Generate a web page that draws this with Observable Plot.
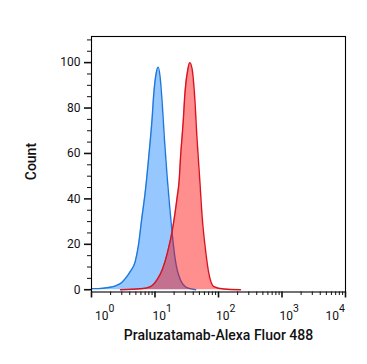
<!DOCTYPE html>
<html>
<head>
<meta charset="utf-8">
<script src="https://cdn.jsdelivr.net/npm/d3@7"></script>
<script src="https://cdn.jsdelivr.net/npm/@observablehq/plot@0.6"></script>
<style>
  html, body { margin: 0; padding: 0; background: #fff; }
  svg { font-family: Roboto, "Noto Sans", sans-serif; }
</style>
</head>
<body>
<div id="chart"></div>
<script>
// Isotype control (blue) histogram: fluorescence intensity and count
const isotypeX = [1.0, 1.29, 1.86, 2.4, 3.0, 3.43, 4.07, 4.88, 5.5, 6.17, 7.08, 7.94, 9.04, 9.55, 10.4, 11.2, 12.0, 13.0, 14.1, 15.5, 17.1, 18.6, 20.9, 25.1, 32.4, 43.7];
const isotypeY = [0.5, 0.5, 1.0, 1.7, 3.2, 5, 8, 12.4, 19.8, 31, 44, 58, 76, 86, 95, 98, 94, 82, 66, 50, 36, 25, 13, 4.4, 0.8, 0];

// Praluzatamab-Alexa Fluor 488 (red) histogram
const stainedX = [2.86, 5.9, 8.5, 10.8, 13.0, 15.6, 18.7, 22.4, 24.0, 25.2, 27.8, 29.7, 32.9, 35.3, 38.5, 41.9, 46.0, 50.8, 55.3, 62.4, 70.3, 84.3, 121, 222];
const stainedY = [0, 0.4, 1.4, 4.4, 8.8, 16, 26, 41, 48, 58, 74, 87, 97, 100, 97, 86, 66, 48, 32, 17.6, 7.3, 1.4, 0.3, 0];

const xMajorTicks = [1, 10, 100, 1000, 10000];
const xExponents = ["0", "1", "2", "3", "4"];
const yMajorTicks = [0, 20, 40, 60, 80, 100];
const xTitle = "Praluzatamab-Alexa Fluor 488";
const yTitle = "Count";

const isotype = isotypeX.map((x, i) => ({x, y: isotypeY[i]}));
const stained = stainedX.map((x, i) => ({x, y: stainedY[i]}));

const xMinorTicks = [];
for (let e = 0; e < 4; e++) for (let m = 2; m <= 9; m++) xMinorTicks.push(m * 10 ** e);
const yMinorTicks = d3.range(0, 112, 5).filter(v => v % 20 !== 0);

const chart = Plot.plot({
  width: 367,
  height: 364,
  marginLeft: 91,
  marginRight: 22,
  marginTop: 36,
  marginBottom: 72.5,
  style: {fontFamily: "Roboto, sans-serif", fontSize: "12px", color: "#111", background: "#fff"},
  x: {type: "log", domain: [1, 10000], label: null},
  y: {domain: [-1, 111.5], label: null},
  marks: [
    Plot.areaY(isotype, {x: "x", y: "y", fill: "#96c8ff", curve: "monotone-x"}),
    Plot.lineY(isotype, {x: "x", y: "y", stroke: "#1e78dc", strokeWidth: 1.4, curve: "monotone-x"}),
    Plot.areaY(stained, {x: "x", y: "y", fill: "#ff0000", fillOpacity: 0.44, curve: "monotone-x"}),
    Plot.lineY(stained, {x: "x", y: "y", stroke: "#d8121e", strokeWidth: 1.4, curve: "monotone-x"}),
    Plot.frame({stroke: "#000", strokeWidth: 1.1}),
    Plot.axisY({ticks: yMinorTicks, tickSize: 4, tickFormat: () => "", strokeWidth: 1, label: null}),
    Plot.axisY({ticks: yMajorTicks, tickSize: 7, tickPadding: 4, strokeWidth: 1.6, fontSize: 12, label: null}),
    Plot.axisX({ticks: xMinorTicks, tickSize: 3.5, tickFormat: () => "", strokeWidth: 1, label: null}),
    Plot.axisX({ticks: xMajorTicks, tickSize: 6, tickPadding: 4, strokeWidth: 1.6, tickFormat: () => "10", fontSize: 12, label: null}),
    Plot.text([xTitle], {frameAnchor: "bottom", dy: 48, fontSize: 14, fontWeight: 500, fill: "#111"}),
    Plot.text([yTitle], {frameAnchor: "left", dx: -60, dy: 16, rotate: -90, fontSize: 14, fontWeight: 500, fill: "#111"})
  ]
});

// Put the exponents as superscripts on Plot's x tick labels
const sx = chart.scale("x");
const labelGroup = d3.select(chart).selectAll('g[aria-label="x-axis tick label"]').filter(function () {
  return d3.select(this).selectAll("text").nodes().some(t => t.textContent === "10");
});
labelGroup.attr("transform", null);
labelGroup.selectAll("text").each(function (_, i) {
  const t = d3.select(this);
  const px = sx.apply(xMajorTicks[i]);
  let anchor = "start", dx = -2;
  if (i === 0) dx = 4;
  if (i === xMajorTicks.length - 1) { anchor = "end"; dx = 0; }
  t.attr("transform", `translate(${px + dx},320)`).attr("y", null).attr("dy", null)
   .attr("text-anchor", anchor).text("");
  t.append("tspan").text("10");
  t.append("tspan").attr("dy", "-0.75em").attr("font-size", "10.5px").text(xExponents[i]);
});

document.getElementById("chart").appendChild(chart);
</script>
</body>
</html>
